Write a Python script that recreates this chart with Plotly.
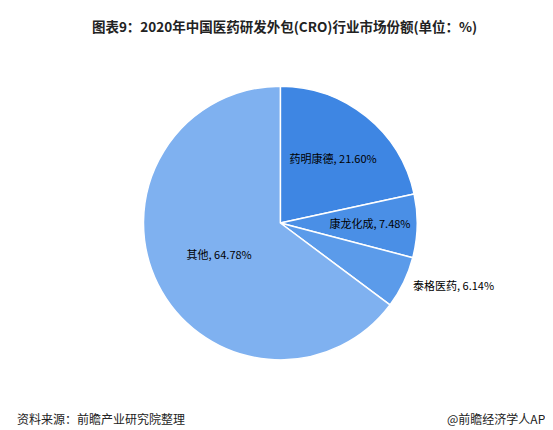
import plotly.graph_objects as go

labels = ["药明康德", "康龙化成", "泰格医药", "其他"]
shares = [21.60, 7.48, 6.14, 64.78]
colors = ["#3E86E3", "#4A8FE6", "#5B9BEA", "#7FB1F0"]

texts = [f"{l}, {v:.2f}%" for l, v in zip(labels, shares)]
fig = go.Figure(go.Pie(
    labels=labels, values=shares, sort=False, direction="clockwise", rotation=0,
    marker=dict(colors=colors, line=dict(color="white", width=1.5)),
    text=[t if i != 2 else "" for i, t in enumerate(texts)],
    textinfo="text", textposition="inside", insidetextorientation="horizontal",
    textfont=dict(size=11, color="black", family="Noto Sans CJK SC"),
    domain=dict(x=[0.245, 0.74], y=[0.18, 0.82]),
    showlegend=False, hoverinfo="skip",
))

fig.update_layout(
    width=553, height=430, margin=dict(l=0, r=0, t=0, b=0),
    paper_bgcolor="white", font=dict(family="Noto Sans CJK SC"),
    title=dict(text="<b>图表9：2020年中国医药研发外包(CRO)行业市场份额(单位：%)</b>",
               x=0.5, xanchor="center", y=0.955, yanchor="middle",
               font=dict(size=13.5, color="#222")),
    annotations=[
        dict(text=texts[2], x=0.728, y=0.355, xref="paper", yref="paper",
             xanchor="left", yanchor="middle", showarrow=False,
             font=dict(size=11, color="black")),
        dict(text="资料来源：前瞻产业研究院整理", x=0.012, y=0.045, xref="paper", yref="paper",
             xanchor="left", yanchor="middle", showarrow=False, font=dict(size=12, color="#222")),
        dict(text="@前瞻经济学人APP", x=0.99, y=0.045, xref="paper", yref="paper",
             xanchor="right", yanchor="middle", showarrow=False, font=dict(size=12, color="#222")),
    ],
)

fig.write_html("out.html")
